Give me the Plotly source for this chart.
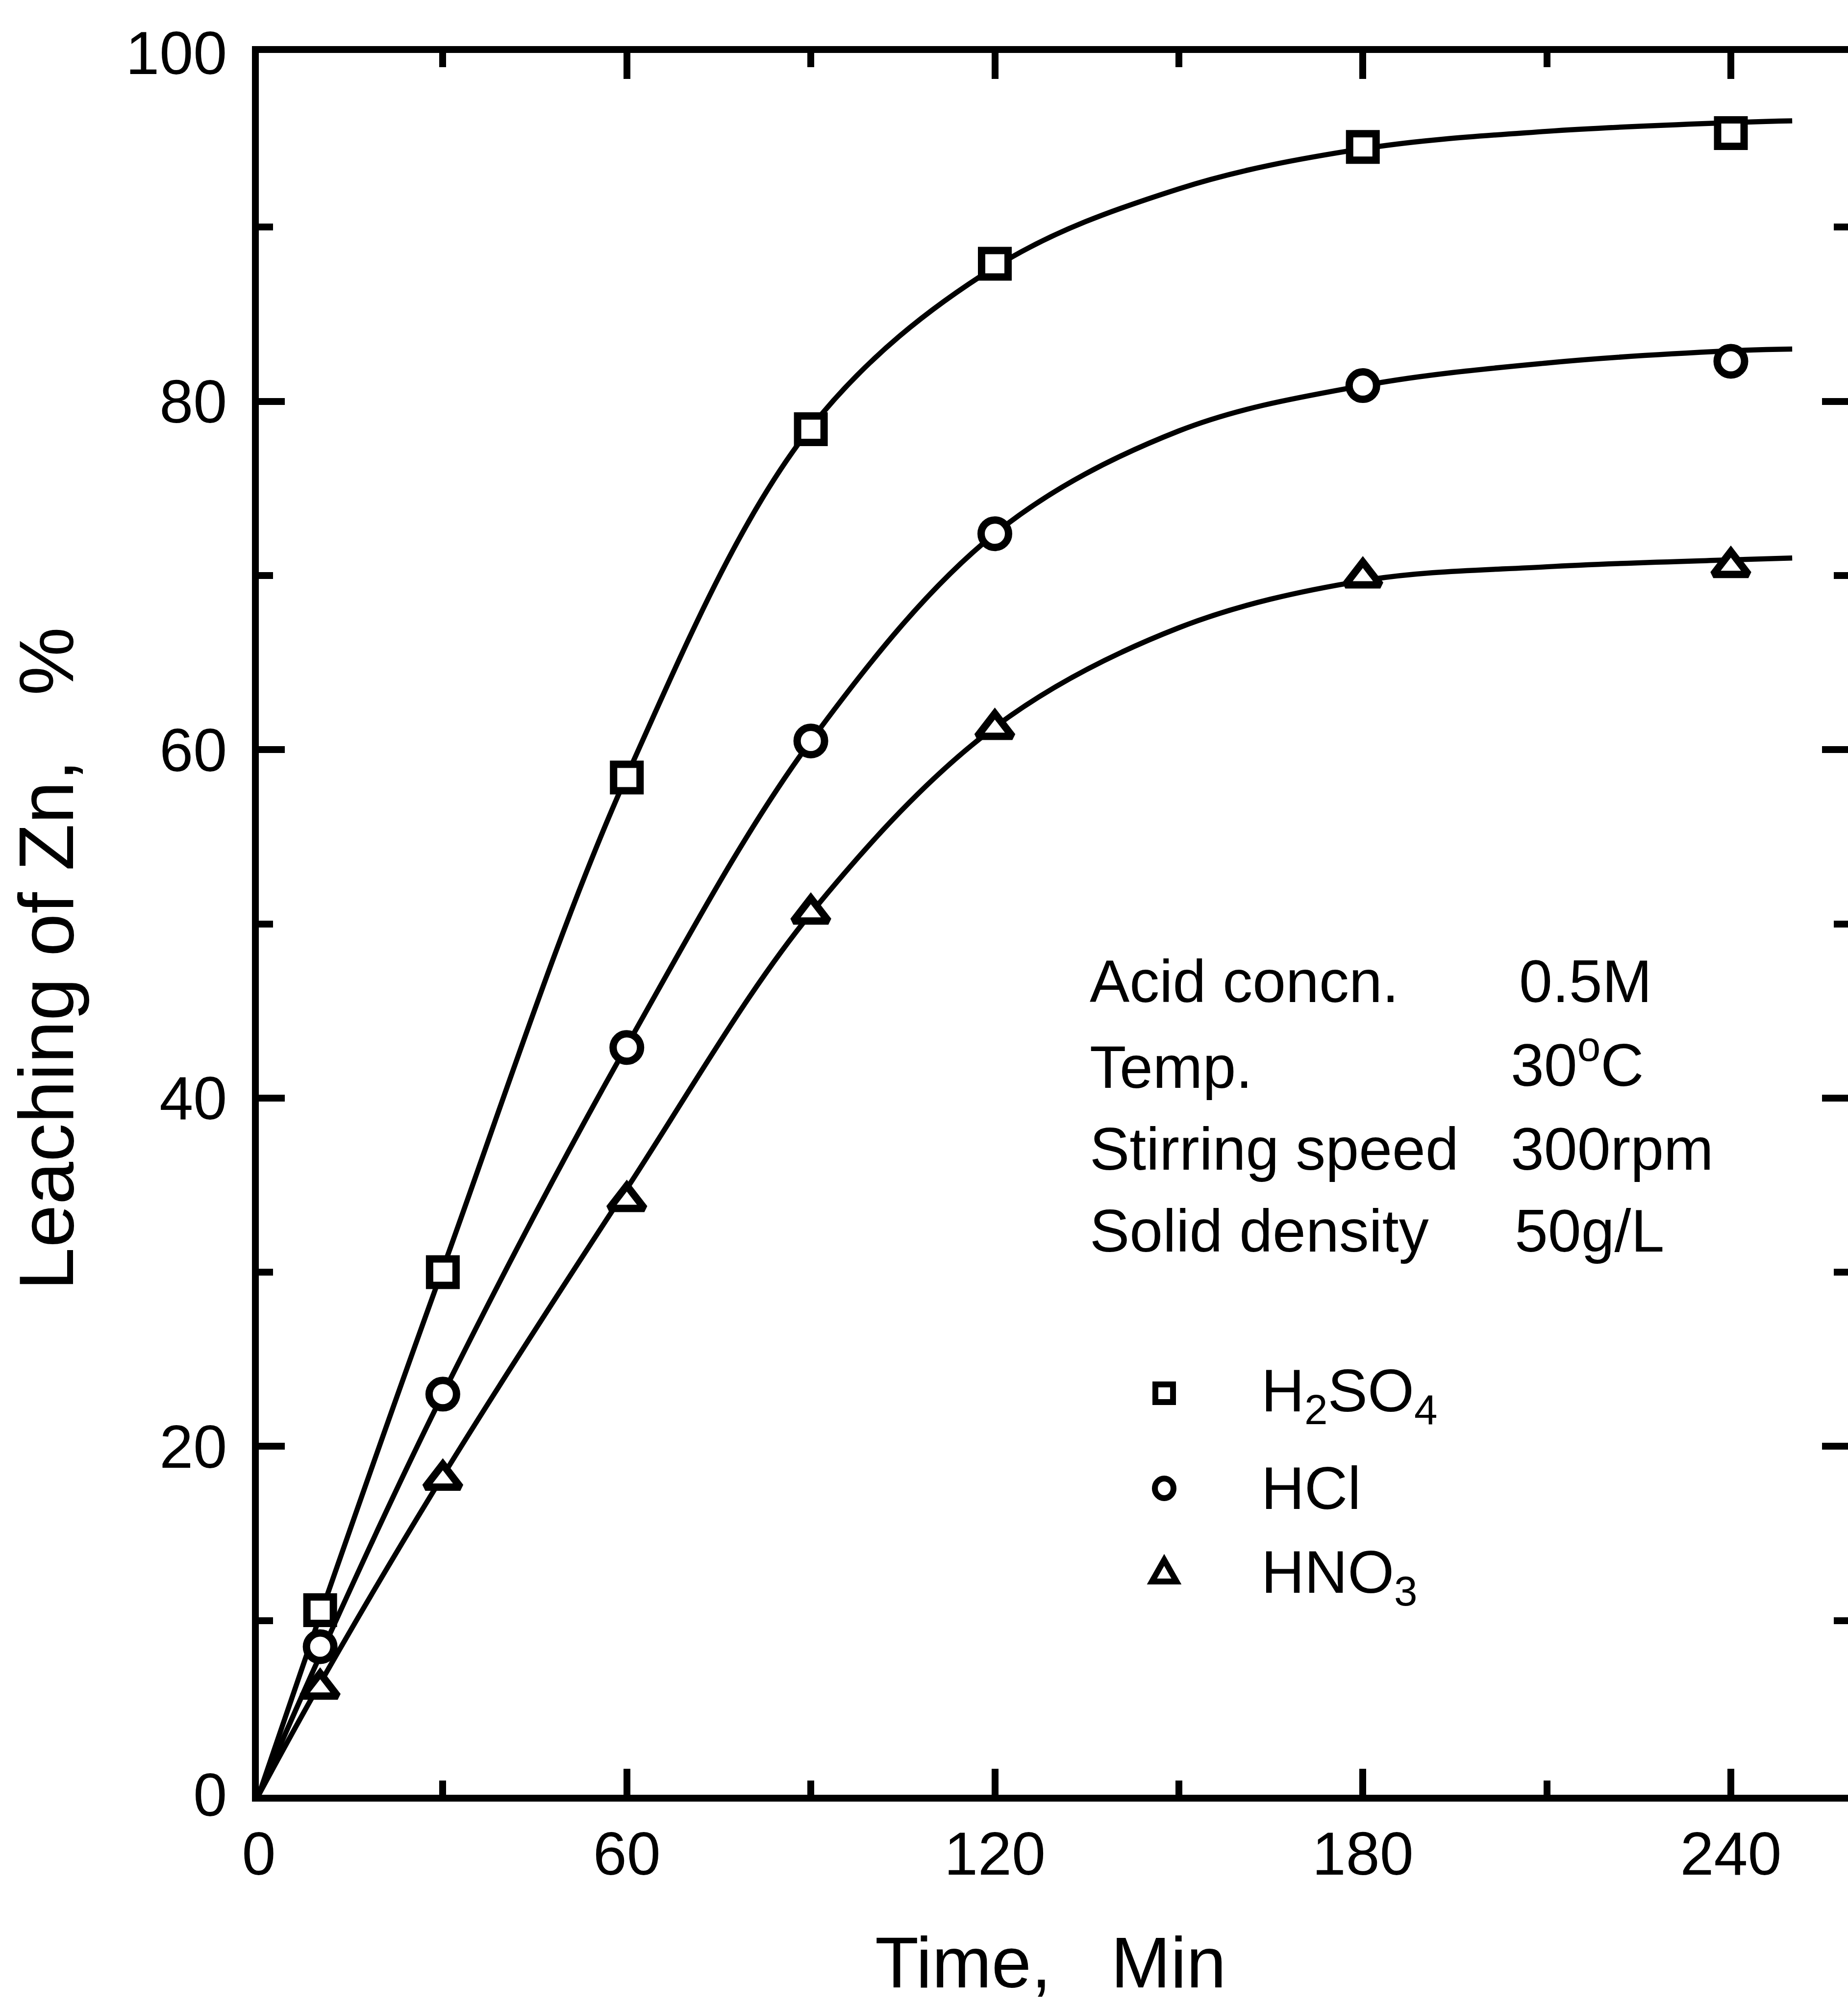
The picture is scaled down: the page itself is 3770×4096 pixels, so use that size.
import plotly.graph_objects as go

# ---------------- data ----------------
time_min = [10, 30, 60, 90, 120, 180, 240]
h2so4 = [10.6, 30.0, 58.4, 78.4, 87.9, 94.6, 95.4]
hcl = [8.5, 23.0, 42.9, 60.5, 72.4, 80.9, 82.3]
hno3 = [6.1, 18.1, 34.1, 50.6, 61.2, 69.9, 70.5]

# fitted curves as drawn in the reference
curve_time = [0, 10, 30, 60, 90, 120, 150, 180, 210, 240, 250]
h2so4_curve = [0, 10.3, 30.2, 58.5, 78.5, 87.7, 92.2, 94.5, 95.5, 96.0, 96.1]
hcl_curve = [0, 8.0, 23.0, 43.0, 60.5, 72.4, 78.3, 80.9, 82.2, 82.9, 83.0]
hno3_curve = [0, 6.4, 18.3, 34.8, 50.6, 61.3, 67.0, 69.7, 70.5, 70.9, 71.0]

x_ticks = [0, 60, 120, 180, 240]
x_minor = [30, 90, 150, 210]
y_ticks = [0, 20, 40, 60, 80, 100]
y_minor = [10, 30, 50, 70, 90]

cond_labels = ["Acid concn.", "Temp.", "Stirring speed", "Solid density"]
cond_values = ["0.5M", "30<sup>o</sup>C", "300rpm", "50g/L"]
series_names = ["H<sub>2</sub>SO<sub>4</sub>", "HCl", "HNO<sub>3</sub>"]

# ---------------- layout geometry (pixels) ----------------
W, H = 3770, 4096
ML, MT, MB = 528, 108, 435
PL, PR, PT, PB = ML, W, MT, H - MB
FONT = "Liberation Sans, Arial, sans-serif"


def fx(p):
    return (p - PL) / (PR - PL)


def fy(p):
    return (PB - p) / (PB - PT)


fig = go.Figure()

for c in [h2so4_curve, hcl_curve, hno3_curve]:
    fig.add_trace(go.Scatter(
        x=curve_time, y=c, mode="lines",
        line=dict(color="black", width=10.5, shape="spline", smoothing=1.0),
        showlegend=False, hoverinfo="skip"))

sizes = [54, 56, 62]
for vals, sym, sz, name in zip([h2so4, hcl, hno3], ["square", "circle", "triangle-up"], sizes, series_names):
    fig.add_trace(go.Scatter(
        x=time_min, y=vals, mode="markers", name=name,
        marker=dict(symbol=sym, size=sz, color="white",
                    line=dict(color="black", width=15)),
        showlegend=False))

axis_common = dict(
    showline=True, linecolor="black", linewidth=14, mirror="ticks",
    ticks="inside", ticklen=53, tickwidth=14, tickcolor="black",
    showgrid=False, zeroline=False,
    tickfont=dict(family=FONT, size=124, color="black"),
)

fig.update_xaxes(range=[0, 259.1], tickmode="array", tickvals=x_ticks,
                 ticktext=[str(v) for v in x_ticks],
                 minor=dict(tickmode="array", tickvals=x_minor, ticks="inside",
                            ticklen=29, tickwidth=14, tickcolor="black"),
                 **axis_common)
fig.update_yaxes(range=[0, 100], tickmode="array", tickvals=y_ticks,
                 ticktext=[str(v) for v in y_ticks], ticklabelstandoff=26,
                 minor=dict(tickmode="array", tickvals=y_minor, ticks="inside",
                            ticklen=29, tickwidth=14, tickcolor="black"),
                 **axis_common)

annotations = []
# axis titles
annotations.append(dict(text="Time,\u00a0\u00a0\u00a0Min", xref="paper", yref="paper",
                        x=fx(2143), y=fy(4003), xanchor="center", yanchor="middle",
                        showarrow=False, font=dict(family=FONT, size=146, color="black")))
annotations.append(dict(text="Leaching of Zn,\u00a0\u00a0\u00a0%", xref="paper", yref="paper",
                        x=fx(94), y=fy(1956), xanchor="center", yanchor="middle",
                        textangle=-90, showarrow=False,
                        font=dict(family=FONT, size=157, color="black")))

# experimental conditions block
row_y = [2002, 2177, 2344, 2511]
val_y = [2002, 2164, 2344, 2511]
val_x = [3097, 3080, 3080, 3088]
for lab, val, ry, vy, vx in zip(cond_labels, cond_values, row_y, val_y, val_x):
    annotations.append(dict(text=lab, xref="paper", yref="paper", x=fx(2221), y=fy(ry),
                            xanchor="left", yanchor="middle", showarrow=False,
                            font=dict(family=FONT, size=122, color="black")))
    annotations.append(dict(text=val, xref="paper", yref="paper", x=fx(vx), y=fy(vy),
                            xanchor="left", yanchor="middle", showarrow=False,
                            font=dict(family=FONT, size=122, color="black")))

# legend (symbol keys + labels)
leg_y = [2846, 3036, 3216]
for name, ly in zip(series_names, leg_y):
    annotations.append(dict(text=name, xref="paper", yref="paper", x=fx(2571), y=fy(ly),
                            xanchor="left", yanchor="middle", showarrow=False,
                            font=dict(family=FONT, size=122, color="black")))

kx = 2375
shapes = []
shapes.append(dict(type="rect", xref="paper", yref="paper",
                   x0=fx(kx - 18), x1=fx(kx + 18), y0=fy(2842 - 18), y1=fy(2842 + 18),
                   line=dict(color="black", width=12), fillcolor="white"))
shapes.append(dict(type="circle", xref="paper", yref="paper",
                   x0=fx(kx - 19), x1=fx(kx + 19), y0=fy(3036 - 20), y1=fy(3036 + 20),
                   line=dict(color="black", width=12), fillcolor="white"))
ty = 3206
tri = "M {:.5f},{:.5f} L {:.5f},{:.5f} L {:.5f},{:.5f} Z".format(
    fx(kx - 25), fy(ty + 20), fx(kx + 25), fy(ty + 20), fx(kx), fy(ty - 24))
shapes.append(dict(type="path", xref="paper", yref="paper", path=tri,
                   line=dict(color="black", width=12), fillcolor="white"))

fig.update_layout(
    width=W, height=H,
    margin=dict(l=ML, r=0, t=MT, b=MB, pad=0, autoexpand=False),
    paper_bgcolor="white", plot_bgcolor="white",
    showlegend=False,
    annotations=annotations, shapes=shapes,
    font=dict(family=FONT, color="black"),
)

fig.write_html("out.html")
